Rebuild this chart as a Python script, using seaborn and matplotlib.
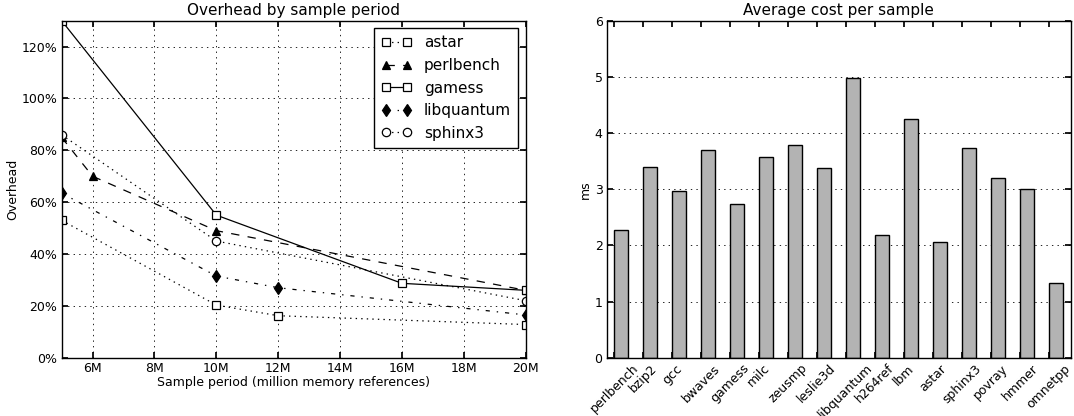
import numpy as np
import pandas as pd
import matplotlib
matplotlib.use("Agg")
import matplotlib.pyplot as plt
from matplotlib.ticker import FuncFormatter
import seaborn as sns

# Overhead (%) by sample period (millions of memory references)
astar_x = [5, 10, 12, 20]
astar_y = [53, 20.3, 16.2, 12.8]
perlbench_x = [5, 6, 10, 20]
perlbench_y = [85, 70, 49, 26]
gamess_x = [5, 10, 16, 20]
gamess_y = [130, 55, 28.7, 26]
libquantum_x = [5, 10, 12, 20]
libquantum_y = [63.5, 31.5, 27, 16.5]
sphinx3_x = [5, 10, 20]
sphinx3_y = [86, 45, 22]

period_ticks = [6, 8, 10, 12, 14, 16, 18, 20]
period_labels = ["6M", "8M", "10M", "12M", "14M", "16M", "18M", "20M"]
overhead_ticks = [0, 20, 40, 60, 80, 100, 120]

# Average cost per sample (ms)
benchmarks = ["perlbench", "bzip2", "gcc", "bwaves", "gamess", "milc", "zeusmp",
              "leslie3d", "libquantum", "h264ref", "lbm", "astar", "sphinx3",
              "povray", "hmmer", "omnetpp"]
cost_ms = [2.27, 3.40, 2.97, 3.69, 2.73, 3.57, 3.78, 3.38, 4.98, 2.19, 4.25,
           2.06, 3.73, 3.20, 3.00, 1.33]

sns.set_theme(style="white", rc={
    "axes.edgecolor": "black",
    "axes.linewidth": 1.0,
    "xtick.direction": "in",
    "ytick.direction": "in",
    "xtick.top": True,
    "ytick.right": True,
    "xtick.bottom": True,
    "ytick.left": True,
    "xtick.major.size": 4,
    "ytick.major.size": 4,
    "xtick.color": "black",
    "ytick.color": "black",
    "text.color": "black",
    "axes.labelcolor": "black",
    "grid.color": "black",
    "grid.linestyle": ":",
    "grid.linewidth": 0.6,
    "lines.scale_dashes": False,
    "lines.dashed_pattern": [6, 6],
    "lines.dashdot_pattern": [3, 5, 1, 5],
    "lines.dotted_pattern": [1, 3],
})
plt.rcParams["font.family"] = ["DejaVu Sans"]

fig = plt.figure(figsize=(10.74, 4.16), dpi=100)
ax1 = fig.add_axes([0.0574, 0.1401, 0.4321, 0.8101])
ax2 = fig.add_axes([0.5649, 0.1401, 0.4320, 0.8101])

series = [
    ("astar", astar_x, astar_y, ":", "s", "white"),
    ("perlbench", perlbench_x, perlbench_y, "--", "^", "black"),
    ("gamess", gamess_x, gamess_y, "-", "s", "white"),
    ("libquantum", libquantum_x, libquantum_y, "-.", "d", "black"),
    ("sphinx3", sphinx3_x, sphinx3_y, ":", "o", "white"),
]
for name, xs, ys, ls, mk, fc in series:
    df = pd.DataFrame({"period": xs, "overhead": ys})
    sns.lineplot(data=df, x="period", y="overhead", ax=ax1, color="black",
                 linestyle=ls, linewidth=0.9, marker=mk, markersize=6,
                 markerfacecolor=fc, markeredgecolor="black",
                 markeredgewidth=0.9, label=name)

ax1.set_xlim(5, 20)
ax1.set_ylim(0, 130)
ax1.set_xticks(period_ticks, period_labels)
ax1.set_yticks(overhead_ticks)
ax1.yaxis.set_major_formatter(FuncFormatter(lambda v, p: f"{v:.0f}%"))
ax1.grid(True)
ax1.set_title("Overhead by sample period", fontsize=11, pad=4)
ax1.set_xlabel("Sample period (million memory references)", fontsize=9, labelpad=1)
ax1.set_ylabel("Overhead", fontsize=9, labelpad=2)
ax1.tick_params(labelsize=9, pad=3)
leg = ax1.legend(loc="upper right", numpoints=2, fontsize=11, frameon=True,
                 fancybox=False, edgecolor="black", framealpha=1,
                 handlelength=2.0, borderpad=0.45, labelspacing=0.5,
                 borderaxespad=0.5)
leg.get_frame().set_linewidth(1.0)

sns.barplot(x=benchmarks, y=cost_ms, ax=ax2, color="#b3b3b3", saturation=1,
            edgecolor="black", linewidth=1.0, width=0.5)
ax2.set_xlim(-0.5, 15.5)
ax2.set_ylim(0, 6)
ax2.set_xticks(np.arange(len(benchmarks)) - 0.25, benchmarks, rotation=45,
               ha="center")
ax2.set_yticks(range(7))
ax2.yaxis.grid(True)
ax2.xaxis.grid(False)
ax2.set_axisbelow(True)
ax2.set_title("Average cost per sample", fontsize=11, pad=4)
ax2.set_ylabel("ms", fontsize=9, labelpad=2)
ax2.tick_params(labelsize=9, pad=3)

fig.savefig("out.png", dpi=100, facecolor="white")
